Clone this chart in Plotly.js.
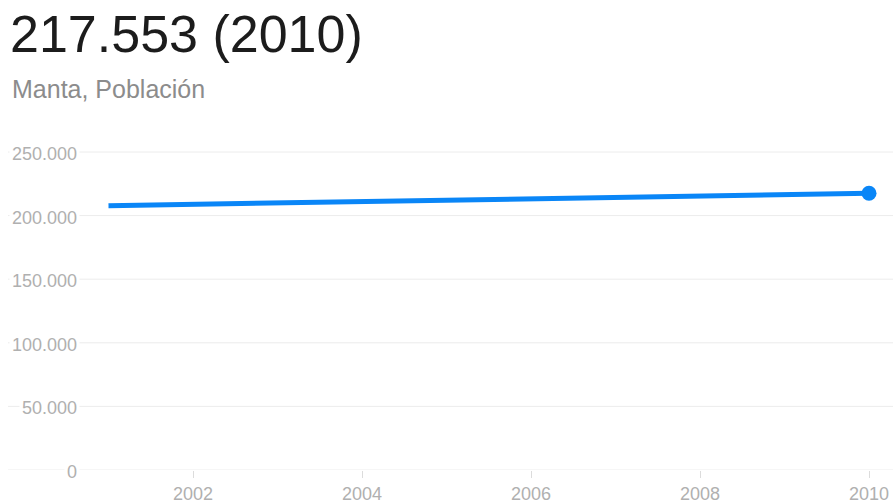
<!DOCTYPE html>
<html>
<head>
<meta charset="utf-8">
<script src="https://cdn.plot.ly/plotly-3.0.1.min.js"></script>
<style>
html,body{margin:0;padding:0;background:#fff;}
#chart{width:893px;height:504px;}
</style>
</head>
<body>
<div id="chart"></div>
<script>
// Data
const years = [2001, 2010];
const population = [207800, 217553];
const yTickVals = [0, 50000, 100000, 150000, 200000, 250000];
const yTickText = ["0", "50.000", "100.000", "150.000", "200.000", "250.000"];
const xTickVals = [2002, 2004, 2006, 2008, 2010];
const xTickText = ["2002", "2004", "2006", "2008", "2010"];
const titleText = "217.553 (2010)";
const subtitleText = "Manta, Población";

const W = 893, H = 504;
const L = 80, R = 0, T = 139, B = 34;
const plotW = W - L - R, plotH = H - T - B;
const px2paperX = px => (px - L) / plotW;
const px2paperY = py => (H - B - py) / plotH;

const gridColor = "#ececec";
const labelColor = "#b0b0b0";
const lineColor = "#0a86f7";
const FONT = "Liberation Sans, Arial, sans-serif";

// gridlines spanning from the far left through the plot
const shapes = yTickVals.map(v => ({
  type: "line", xref: "paper", yref: "y",
  x0: px2paperX(8), x1: 1, y0: v, y1: v,
  line: {color: gridColor, width: 1}, layer: "below"
}));

const annotations = yTickVals.map((v, i) => ({
  xref: "paper", yref: "y", x: 0, y: v,
  xanchor: "right", yanchor: "middle", yshift: -2,
  text: yTickText[i], showarrow: false,
  bgcolor: "#ffffff", borderpad: 2,
  font: {family: FONT, size: 18, color: labelColor}
}));

annotations.push({
  xref: "paper", yref: "paper", x: px2paperX(8), y: px2paperY(34),
  xanchor: "left", yanchor: "middle",
  text: titleText, showarrow: false,
  font: {family: FONT, size: 52, color: "#1c1c1c"}
});
annotations.push({
  xref: "paper", yref: "paper", x: px2paperX(10), y: px2paperY(89),
  xanchor: "left", yanchor: "middle",
  text: subtitleText, showarrow: false,
  font: {family: FONT, size: 25, color: "#8c8c8c"}
});

const pxPerYear = 84.5;
const xStart = 2002 - (193 - L) / pxPerYear;
const xEnd = xStart + plotW / pxPerYear;
const yTop = plotH * 250000 / 318;

const traces = [
  {
    x: years, y: population, type: "scatter", mode: "lines",
    line: {color: lineColor, width: 5}, hoverinfo: "skip", cliponaxis: false
  },
  {
    x: years.slice(-1), y: population.slice(-1), type: "scatter", mode: "markers",
    marker: {color: lineColor, size: 15}, cliponaxis: false
  }
];

const layout = {
  width: W, height: H,
  margin: {l: L, r: R, t: T, b: B, pad: 0},
  paper_bgcolor: "#ffffff", plot_bgcolor: "#ffffff",
  showlegend: false,
  xaxis: {
    range: [xStart, xEnd], tickvals: xTickVals, ticktext: xTickText,
    showgrid: false, zeroline: false, showline: false,
    ticks: "outside", ticklen: 7, tickcolor: "#dcdcdc", tickwidth: 1,
    ticklabelstandoff: 0,
    tickfont: {family: FONT, size: 18, color: labelColor}
  },
  yaxis: {
    range: [0, yTop], tickvals: yTickVals, showticklabels: false,
    showgrid: false, zeroline: false, showline: false, ticks: ""
  },
  shapes: shapes,
  annotations: annotations
};

Plotly.newPlot("chart", traces, layout, {staticPlot: true, displayModeBar: false});
</script>
</body>
</html>
